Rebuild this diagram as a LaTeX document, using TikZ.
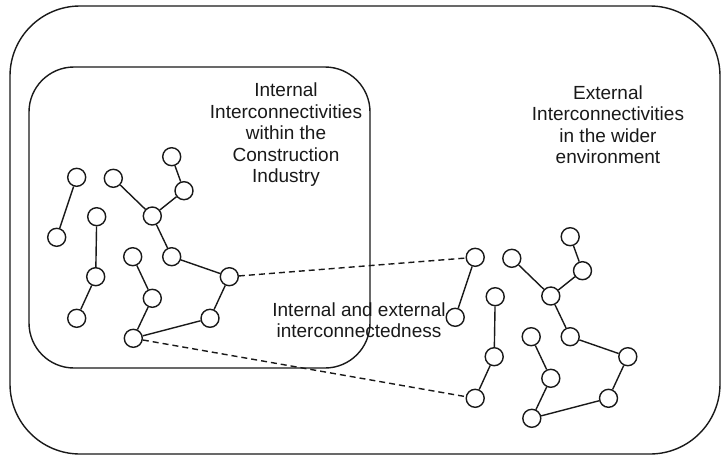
\documentclass[tikz,border=0pt]{standalone}
\usepackage{fontspec}
\setmainfont{Liberation Sans}
\usetikzlibrary{arrows,shapes}

\begin{document}
\begin{tikzpicture}[x=1pt,y=-1pt,line width=1.4pt,draw=black!90,
	dot/.style={draw,circle,inner sep=0pt,minimum size=18pt},
	note/.style={align=center,text=black!90,font=\fontsize{19}{21.5}\selectfont}]

	\useasboundingbox (0,0) rectangle (721,456);
	\draw[rounded corners=70pt] (10,6) rectangle (720,454);
	\draw[rounded corners=45pt] (29,67) rectangle (370,368);

	% two copies of the same small networks
	\foreach \p/\dx/\dy in {l/0/0,r/398.5/80}{
		\begin{scope}[shift={(\dx,\dy)}]
		\node[dot] (\p a1) at (76.7,177.3) {};
		\node[dot] (\p a2) at (56.7,237.3) {};
		\node[dot] (\p b1) at (96.7,216.7) {};
		\node[dot] (\p b2) at (95.7,276.7) {};
		\node[dot] (\p b3) at (76.7,318.3) {};
		\node[dot] (\p c1) at (113.3,178.3) {};
		\node[dot] (\p c2) at (171.7,156.7) {};
		\node[dot] (\p c3) at (184,190.7) {};
		\node[dot] (\p c4) at (152.3,216) {};
		\node[dot] (\p c5) at (171.7,256.7) {};
		\node[dot] (\p c6) at (229.3,276.7) {};
		\node[dot] (\p c7) at (210,318.3) {};
		\node[dot] (\p c8) at (133.3,338.3) {};
		\node[dot] (\p c9) at (132.7,256.7) {};
		\node[dot] (\p c10) at (152.3,298.3) {};
		\end{scope}
		\draw (\p a1) -- (\p a2);
		\draw (\p b1) -- (\p b2) -- (\p b3);
		\draw (\p c1) -- (\p c4);
		\draw (\p c2) -- (\p c3) -- (\p c4) -- (\p c5) -- (\p c6) -- (\p c7) -- (\p c8) -- (\p c10) -- (\p c9);
	}

	\draw[dash pattern=on 6pt off 4pt] (lc6) -- (ra1);
	\draw[dash pattern=on 6pt off 4pt] (lc8) -- (rb3);

	\node[note] (inside) at (286,135) {Internal\\Interconnectivities\\within the\\Construction\\Industry};
	\node[note] (outside) at (608,124.5) {External\\Interconnectivities\\in the wider\\environment};
	\node[note] (both) at (359,320) {Internal and external\\interconnectedness};

\end{tikzpicture}
\end{document}
